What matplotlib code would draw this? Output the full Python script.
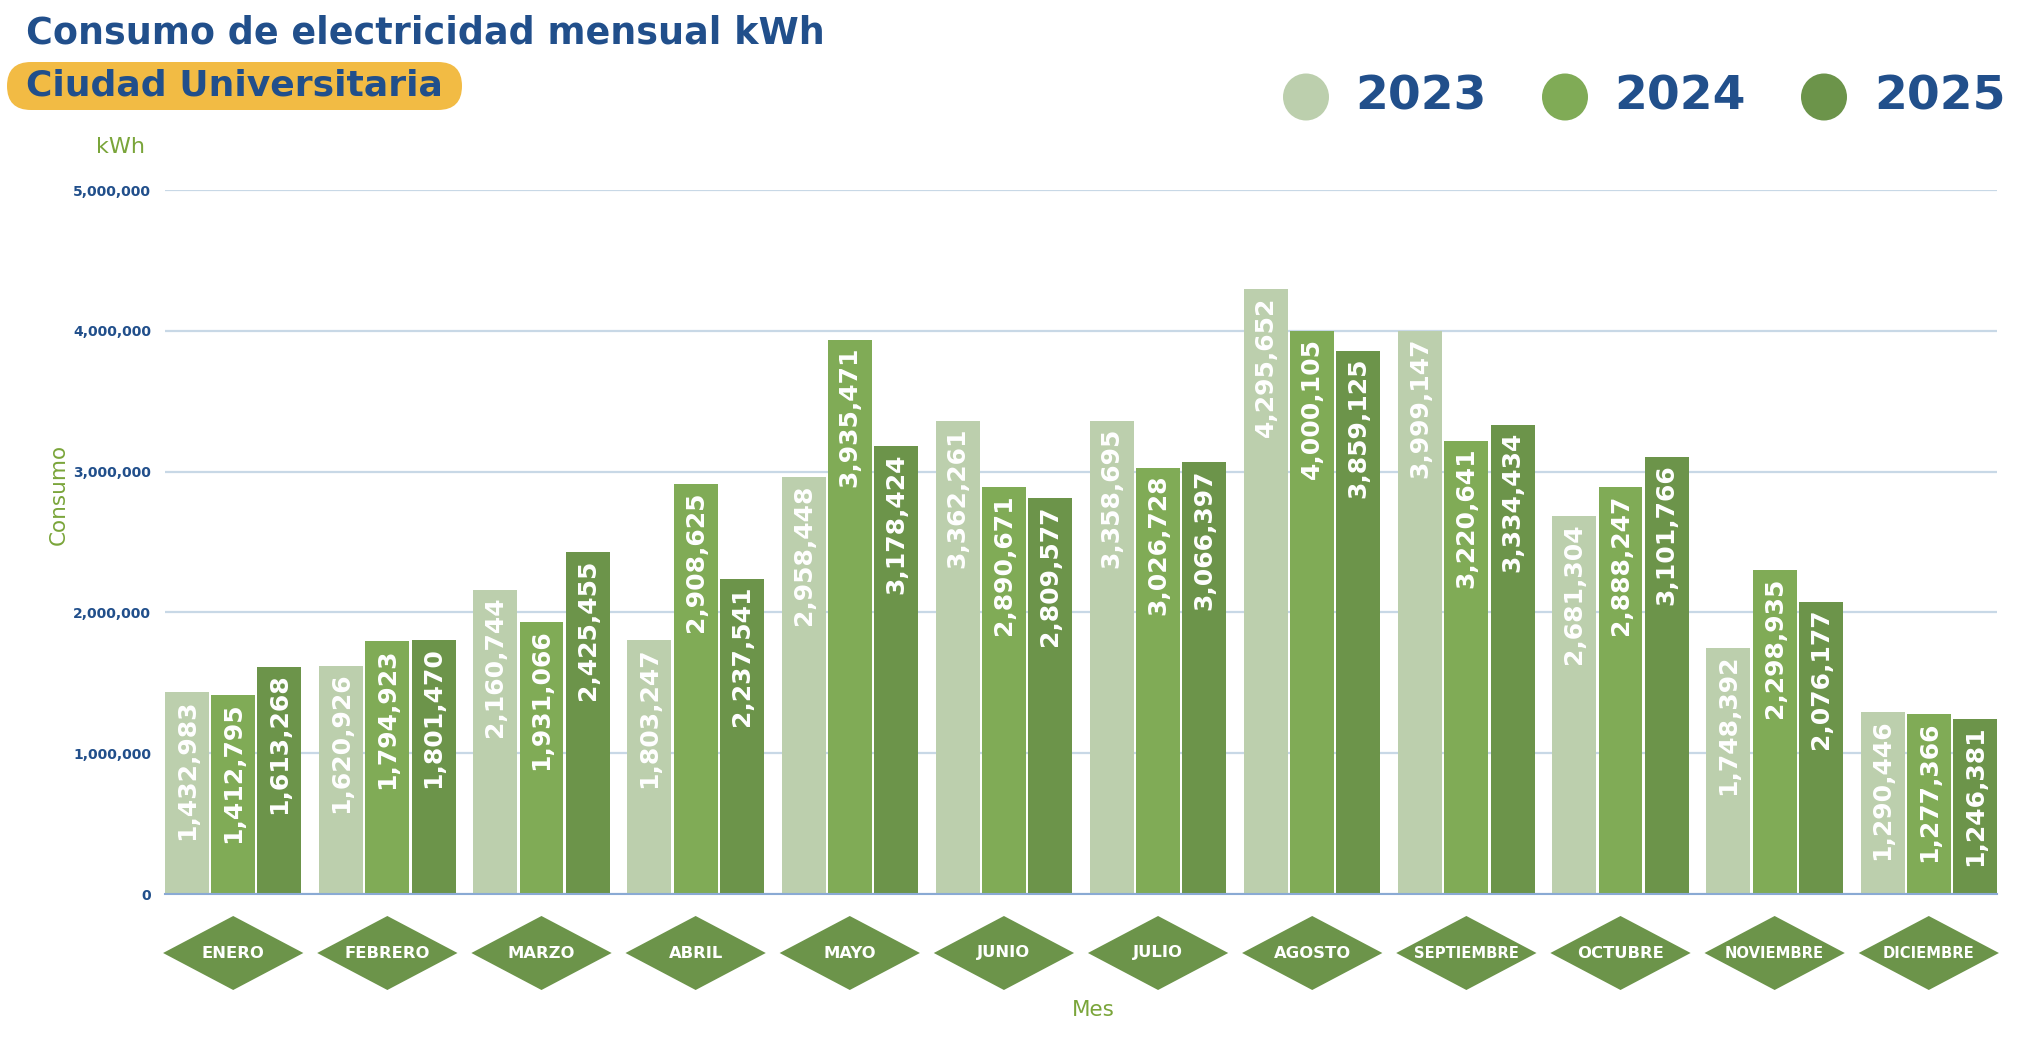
import matplotlib
matplotlib.use("Agg")
import matplotlib.pyplot as plt
from matplotlib.patches import Polygon, Ellipse, FancyBboxPatch
from matplotlib.transforms import blended_transform_factory, IdentityTransform
from matplotlib.ticker import FuncFormatter
import numpy as np

months = ["ENERO", "FEBRERO", "MARZO", "ABRIL", "MAYO", "JUNIO", "JULIO",
          "AGOSTO", "SEPTIEMBRE", "OCTUBRE", "NOVIEMBRE", "DICIEMBRE"]
years = ["2023", "2024", "2025"]
v2023 = [1432983, 1620926, 2160744, 1803247, 2958448, 3362261, 3358695,
         4295652, 3999147, 2681304, 1748392, 1290446]
v2024 = [1412795, 1794923, 1931066, 2908625, 3935471, 2890671, 3026728,
         4000105, 3220641, 2888247, 2298935, 1277366]
v2025 = [1613268, 1801470, 2425455, 2237541, 3178424, 2809577, 3066397,
         3859125, 3334434, 3101766, 2076177, 1246381]
yticks = [0, 1000000, 2000000, 3000000, 4000000, 5000000]

colors = ["#bccfad", "#80ab56", "#6c944a"]
blue = "#214f8b"
green_txt = "#7aa53a"
diamond_c = "#6c944a"

W, H = 2040, 1056
fig = plt.figure(figsize=(W / 100, H / 100), dpi=100)
fig.patch.set_facecolor("white")

left, right = 165 / W, 1997 / W
bottom, top = (H - 894) / H, (H - 190) / H
ax = fig.add_axes([left, bottom, right - left, top - bottom])

x = np.arange(len(months))
bw = 0.285
step = 0.30
series = [v2023, v2024, v2025]
for i, vals in enumerate(series):
    xs = x + (i - 1) * step
    bars = ax.bar(xs, vals, width=bw, color=colors[i], zorder=3, label=years[i])
    for b, v in zip(bars, vals):
        ax.annotate(f"{v:,}", (b.get_x() + b.get_width() / 2, v),
                    xytext=(0, -7), textcoords="offset pixels",
                    rotation=90, ha="center", va="top", color="white",
                    fontsize=18, fontweight="bold", zorder=4)

ax.set_xlim(-0.4425, len(months) - 1 + 0.4425)
ax.set_ylim(0, 5000000)
ax.set_yticks(yticks)
ax.yaxis.set_major_formatter(FuncFormatter(lambda v, p: f"{int(v):,}"))
ax.tick_params(axis="y", length=0, pad=10, labelsize=10, labelcolor=blue)
for lab in ax.get_yticklabels():
    lab.set_fontweight("bold")
ax.set_xticks([])
ax.grid(axis="y", color="#c8d8e6", linewidth=1.6, zorder=0)
for s in ["top", "right", "left"]:
    ax.spines[s].set_visible(False)
ax.spines["bottom"].set_color("#8aaad4")
ax.spines["bottom"].set_linewidth(1.5)
ax.spines["bottom"].set_zorder(5)

# diamond month labels
tr = blended_transform_factory(ax.transData, fig.transFigure)
yc = (H - 953) / H
hh = 37 / H
hw = 0.455
for xi, m in zip(x, months):
    poly = Polygon([(xi - hw, yc), (xi, yc + hh), (xi + hw, yc), (xi, yc - hh)],
                   closed=True, transform=tr, facecolor=diamond_c,
                   edgecolor="none", clip_on=False)
    fig.add_artist(poly)
    fs = 11.8 if len(m) <= 7 else 10.6
    fig.text(xi, yc, m, transform=tr, ha="center", va="center",
             color="white", fontsize=fs, fontweight="bold")

# axis labels
fig.text(121 / W, (H - 147) / H, "kWh", color=green_txt, fontsize=16,
         ha="center", va="center")
fig.text(59 / W, (H - 494) / H, "Consumo", color=green_txt, fontsize=15.5,
         ha="center", va="center", rotation=90)
fig.text(1093 / W, (H - 1010) / H, "Mes", color=green_txt, fontsize=15.5,
         ha="center", va="center")

# title and subtitle
fig.text(26 / W, (H - 33) / H, "Consumo de electricidad mensual kWh",
         color=blue, fontsize=26.3, fontweight="heavy", ha="left", va="center")
pill = FancyBboxPatch((7, H - 110), 455, 48,
                      boxstyle="round,pad=0,rounding_size=24",
                      transform=IdentityTransform(), facecolor="#f2bb44",
                      edgecolor="none")
fig.add_artist(pill)
fig.text(26 / W, (H - 86) / H, "Ciudad Universitaria",
         color=blue, fontsize=26, fontweight="heavy", ha="left", va="center")

# legend
cx = [1306, 1565, 1824]
tx = [1355, 1614, 1874]
for i in range(3):
    e = Ellipse((cx[i], H - 97), 46, 47, transform=IdentityTransform(),
                facecolor=colors[i], edgecolor="none")
    fig.add_artist(e)
    fig.text(tx[i] / W, (H - 97) / H, years[i], color=blue, fontsize=34,
             fontweight="heavy", ha="left", va="center")

fig.savefig("out.png", dpi=100, facecolor="white")
